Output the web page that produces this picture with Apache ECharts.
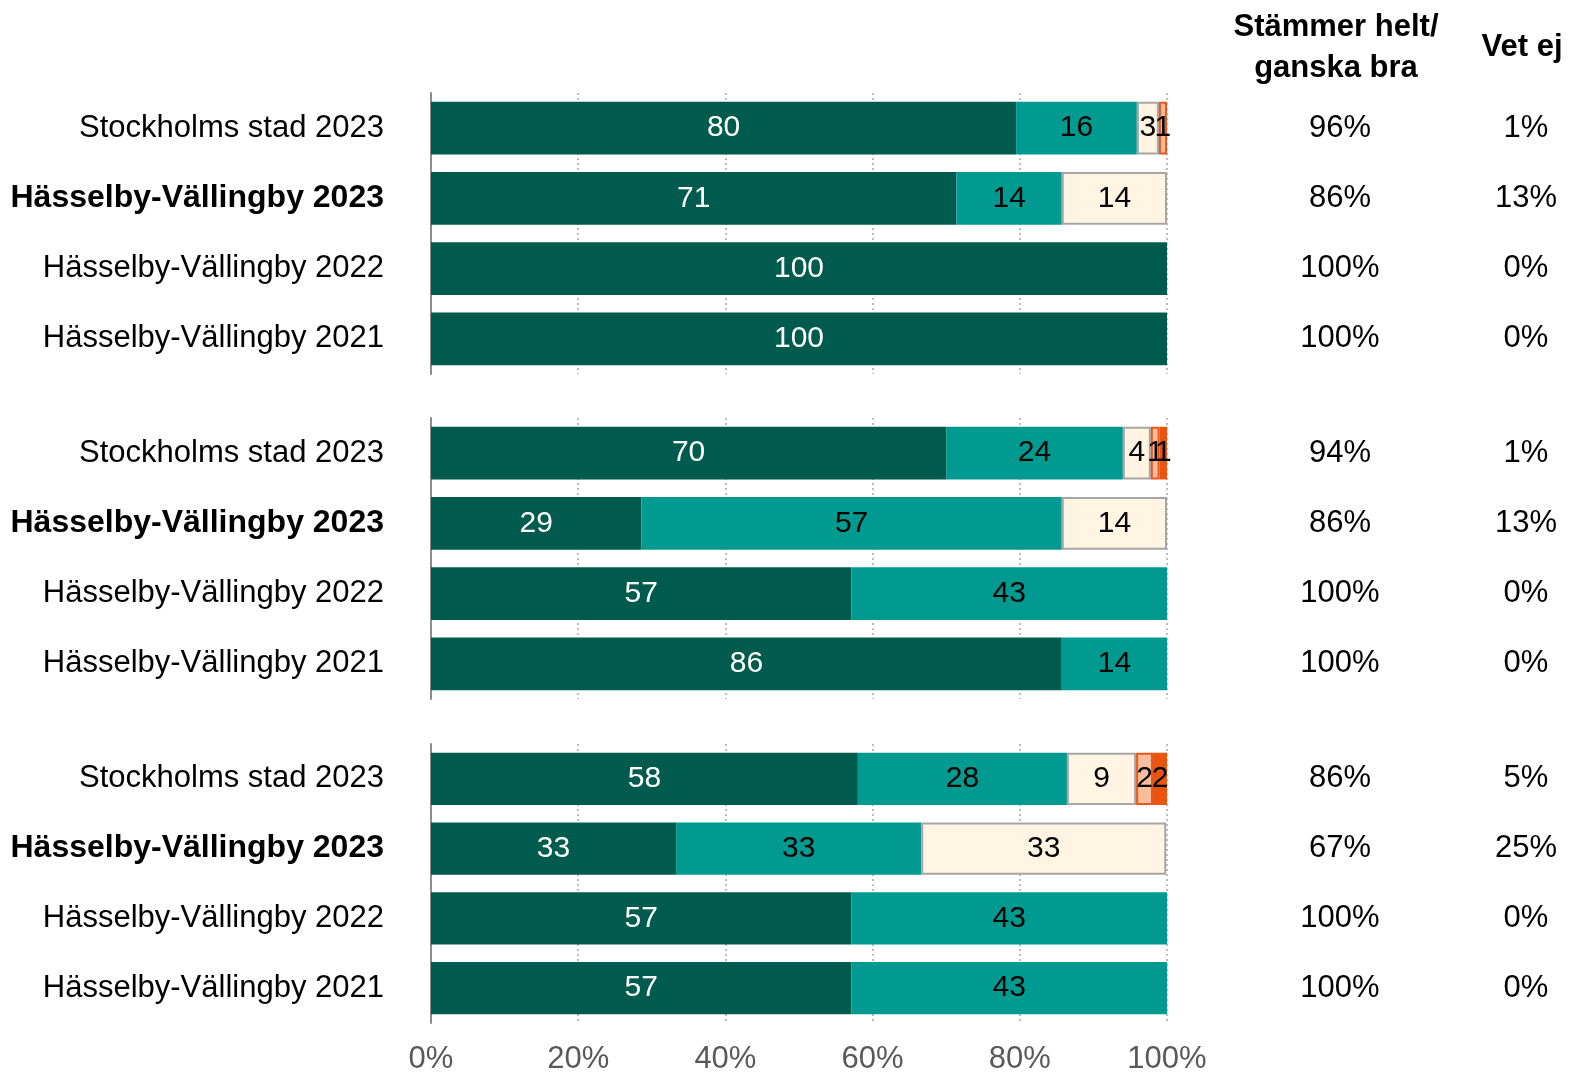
<!DOCTYPE html>
<html><head><meta charset="utf-8">
<script src="https://cdn.jsdelivr.net/npm/echarts@6/dist/echarts.min.js"></script>
<style>html,body{margin:0;padding:0;background:#fff}#c{width:1572px;height:1075px}</style>
</head><body><div id="c"></div>
<script>
const categories = ['Stockholms stad 2023','Hässelby-Vällingby 2023','Hässelby-Vällingby 2022','Hässelby-Vällingby 2021'];
const boldRow = 1;
const tickLabels = ['0%','20%','40%','60%','80%','100%'];
// per group, per segment series: values for the 4 rows
const g1 = {
  helt:    [79.5, 71.4, 100, 100],
  ganska:  [16.4, 14.3, null, null],
  vetej:   [3.0, 14.3, null, null],
  dalig:   [1.1, null, null, null],
  inte:    [null, null, null, null]
};
const g2 = {
  helt:    [70.0, 28.6, 57.1, 85.7],
  ganska:  [24.0, 57.1, 42.9, 14.3],
  vetej:   [3.8, 14.3, null, null],
  dalig:   [1.2, null, null, null],
  inte:    [1.0, null, null, null]
};
const g3 = {
  helt:    [58.0, 33.3, 57.1, 57.1],
  ganska:  [28.4, 33.3, 42.9, 42.9],
  vetej:   [9.4, 33.3, null, null],
  dalig:   [2.3, null, null, null],
  inte:    [1.9, null, null, null]
};
const colStammer = [
  ['96%','86%','100%','100%'],
  ['94%','86%','100%','100%'],
  ['86%','67%','100%','100%']
];
const colVetEj = [
  ['1%','13%','0%','0%'],
  ['1%','13%','0%','0%'],
  ['5%','25%','0%','0%']
];
const headerStammer = ['Stämmer helt/', 'ganska bra'];
const headerVetEj = 'Vet ej';

const groups = [g1, g2, g3];
const FONT = 'Liberation Sans, Arial, sans-serif';
const FS = 31;
const segs = [
  {key:'helt', color:'#005B4F', border:null, text:'#fff'},
  {key:'ganska', color:'#009A91', border:null, text:'#000'},
  {key:'vetej', color:'#FFF5E2', border:'#A6A6A6', text:'#000'},
  {key:'dalig', color:'#F8BD9C', border:'#E9561B', text:'#000'},
  {key:'inte', color:'#E9540F', border:null, text:'#000'}
];
const tops = [93, 418, 744];
const grids = [], xAxes = [], yAxes = [], series = [];
groups.forEach((g, gi) => {
  grids.push({left:431, right:405, top:tops[gi], height:281, containLabel:false});
  xAxes.push({
    type:'value', gridIndex:gi, min:0, max:100, interval:20,
    axisLine:{show:false}, axisTick:{show:false},
    splitLine:{show:true, lineStyle:{color:'#BDBDBD', width:2, type:[2,3]}},
    axisLabel:{show: gi===2, margin:21, fontFamily:FONT, fontSize:FS, color:'#595959',
      formatter:(v)=>tickLabels[Math.round(v/20)]}
  });
  const base = yAxes.length;
  yAxes.push({
    type:'category', gridIndex:gi, data:categories, inverse:true,
    axisLine:{show:true, lineStyle:{color:'#8C8C8C', width:2}},
    axisTick:{show:false},
    axisLabel:{margin:47, fontFamily:FONT, fontSize:FS, color:'#000',
      formatter:(v, i)=> i===boldRow ? '{b|'+v+'}' : v,
      rich:{b:{fontWeight:'bold', fontFamily:FONT, fontSize:32, color:'#000'}}}
  });
  yAxes.push({
    type:'category', gridIndex:gi, data:colStammer[gi], inverse:true, position:'right',
    axisLine:{show:false}, axisTick:{show:false},
    axisLabel:{margin:173, align:'center', fontFamily:FONT, fontSize:FS, color:'#000'}
  });
  yAxes.push({
    type:'category', gridIndex:gi, data:colVetEj[gi], inverse:true, position:'right',
    axisLine:{show:false}, axisTick:{show:false},
    axisLabel:{margin:359, align:'center', fontFamily:FONT, fontSize:FS, color:'#000'}
  });
  segs.forEach(s => {
    series.push({
      type:'bar', name:s.key, stack:'g'+gi, xAxisIndex:gi, yAxisIndex:base,
      data:g[s.key], barCategoryGap:'25%',
      itemStyle:{color:s.color, borderColor:s.border||s.color, borderWidth:s.border?2:0},
      label:{show:true, position:'inside', fontFamily:FONT, fontSize:30, color:s.text,
        formatter:(p)=> p.value==null ? '' : String(Math.round(p.value))},
      labelLayout:{hideOverlap:false},
      emphasis:{disabled:true}, animation:false
    });
  });
});

const chart = echarts.init(document.getElementById('c'));
chart.setOption({
  animation:false,
  grid:grids, xAxis:xAxes, yAxis:yAxes, series:series,
  graphic:[
    {type:'text', x:1336, y:27, style:{text:headerStammer[0], textAlign:'center', textVerticalAlign:'middle', font:'bold 31px '+FONT, fill:'#000'}},
    {type:'text', x:1336, y:68, style:{text:headerStammer[1], textAlign:'center', textVerticalAlign:'middle', font:'bold 31px '+FONT, fill:'#000'}},
    {type:'text', x:1522, y:47, style:{text:headerVetEj, textAlign:'center', textVerticalAlign:'middle', font:'bold 31px '+FONT, fill:'#000'}}
  ]
});
</script></body></html>
